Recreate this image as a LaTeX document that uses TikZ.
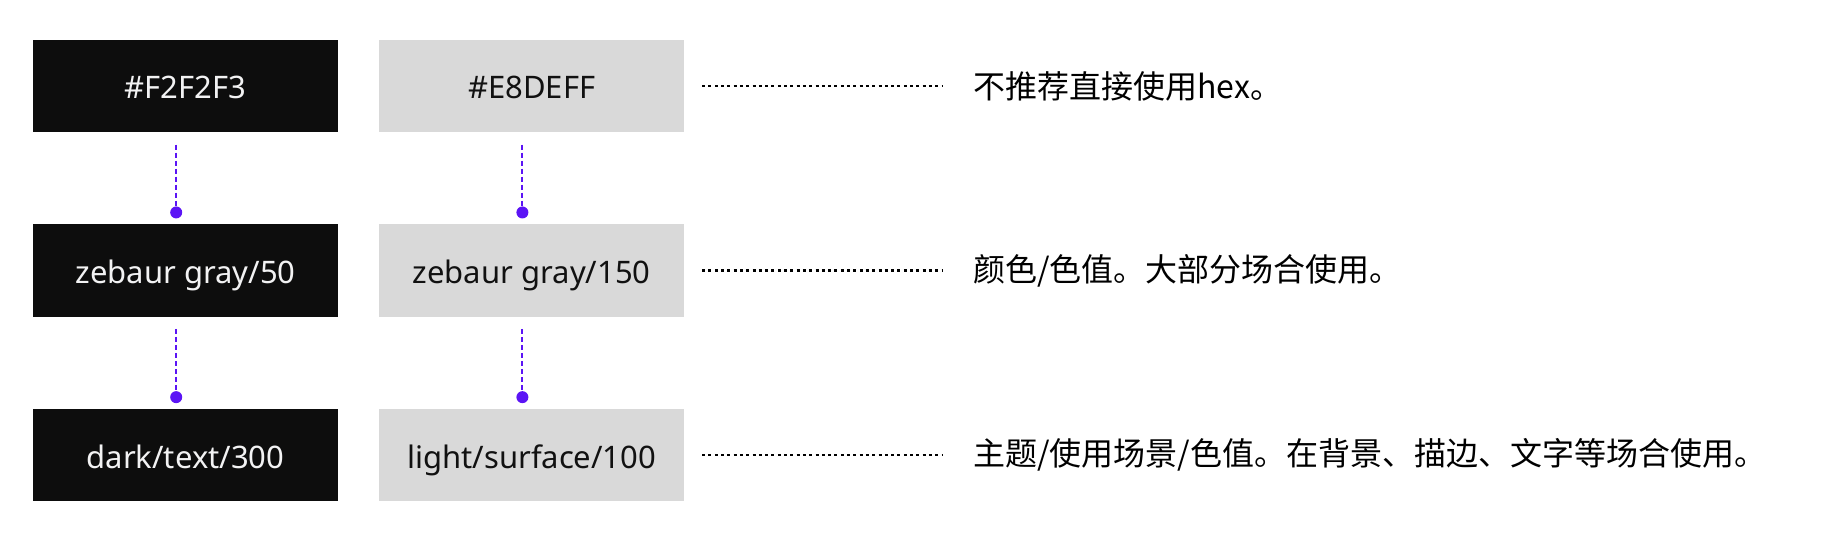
\documentclass[tikz,border=0pt]{standalone}
\usepackage{fontspec}
\setmainfont{Noto Sans}
\newfontfamily\cjk{Noto Sans CJK SC}
\definecolor{boxblack}{HTML}{0D0D0D}
\definecolor{boxgray}{HTML}{D9D9D9}
\definecolor{txtlight}{HTML}{F2F2F3}
\definecolor{txtdark}{HTML}{111111}
\definecolor{linkpurple}{RGB}{91,20,245}
\tikzset{
  basebox/.style={rectangle, minimum width=304.5pt, minimum height=92.3pt, inner sep=0pt, text height=25.6pt, text depth=0pt, font=\fontsize{31}{37}\selectfont},
  darkbox/.style={basebox, fill=boxblack, text=txtlight},
  lightbox/.style={basebox, fill=boxgray, text=txtdark},
  note/.style={anchor=west, inner sep=0pt, text=black, font=\cjk\fontsize{32}{38}\selectfont},
  link/.style={draw=linkpurple, line width=2pt, dash pattern=on 5pt off 3pt},
  linkdot/.style={fill=linkpurple},
  guide/.style={draw=black, line width=2.2pt, dash pattern=on 3pt off 3.3pt}
}
\begin{document}
\begin{tikzpicture}[x=1pt,y=1pt]
\useasboundingbox (0,0) rectangle (1822,-548);
% boxes
\node[darkbox]  (a1) at (185.5,-86.2) {\#F2F2F3};
\node[lightbox] (b1) at (531.7,-86.2) {\#E8DEFF};
\node[darkbox]  (a2) at (185.5,-270.5) {zebaur gray/50};
\node[lightbox] (b2) at (531.7,-270.5) {zebaur gray/150};
\node[darkbox]  (a3) at (185.5,-455.2) {dark/text/300};
\node[lightbox] (b3) at (531.7,-455.2) {light/surface/100};
% notes
\node[note] (t1) at (973,-86.2) {不推荐直接使用hex。};
\node[note] (t2) at (973,-270.5) {颜色/色值。大部分场合使用。};
\node[note] (t3) at (973,-455.2) {主题/使用场景/色值。在背景、描边、文字等场合使用。};
% guides
\draw[guide] ([xshift=18pt]b1.east) -- ([xshift=-31pt]t1.west);
\draw[guide] ([xshift=18pt]b2.east) -- ([xshift=-31pt]t2.west);
\draw[guide] ([xshift=18pt]b3.east) -- ([xshift=-31pt]t3.west);
% links
\foreach \u/\v in {a1/a2,a2/a3,b1/b2,b2/b3}{
  \draw[link] ([xshift=-9.3pt,yshift=-12pt]\u.south) -- ([xshift=-9.3pt,yshift=11.7pt]\v.north);
  \fill[linkdot] ([xshift=-9.3pt,yshift=11.7pt]\v.north) circle (6pt);
}
\end{tikzpicture}
\end{document}
